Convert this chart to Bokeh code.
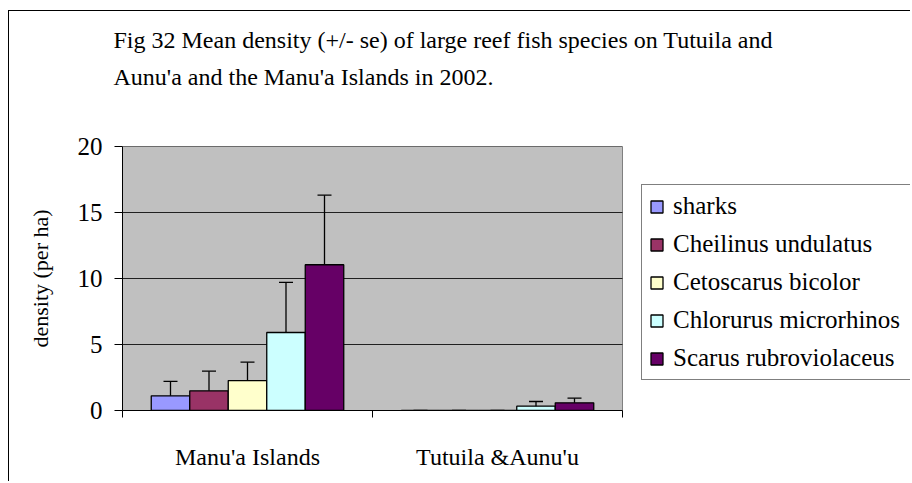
from bokeh.plotting import figure
from bokeh.models import (ColumnDataSource, Range1d, FixedTicker, Legend, LegendItem,
                          Whisker, TeeHead, Title)
from bokeh.layouts import column
from bokeh.embed import file_html
from bokeh.resources import INLINE

# ---- data ----
categories = ["Manu'a Islands", "Tutuila &Aunu'u"]
species = ["sharks", "Cheilinus undulatus", "Cetoscarus bicolor",
           "Chlorurus microrhinos", "Scarus rubroviolaceus"]
sharks = [1.11, 0.0]
cheilinus = [1.49, 0.0]
cetoscarus = [2.27, 0.0]
chlorurus = [5.91, 0.33]
scarus = [11.04, 0.58]
sharks_se = [1.10, 0.0]
cheilinus_se = [1.49, 0.0]
cetoscarus_se = [1.39, 0.0]
chlorurus_se = [3.79, 0.35]
scarus_se = [5.27, 0.35]
y_ticks = [0, 5, 10, 15, 20]
title_text = ("Fig 32 Mean density (+/- se) of large reef fish species on Tutuila and\n"
              "Aunu'a and the Manu'a Islands in 2002.")
y_label = "density (per ha)"

means = [sharks, cheilinus, cetoscarus, chlorurus, scarus]
ses = [sharks_se, cheilinus_se, cetoscarus_se, chlorurus_se, scarus_se]
colors = ["#9999FF", "#993366", "#FFFFCC", "#CCFFFF", "#660066"]

FONT = "Liberation Serif"
group_frac = 0.77
bw = group_frac / len(species)
n_cat = len(categories)

W, H = 901, 470
LEFT, TOP, BOTTOM = 113, 135, 71
PLOT_W = 500                     # pixel width of the grey plot area
frame_w = W - LEFT               # frame extends to the right edge (legend lives there)
x_end = n_cat * frame_w / PLOT_W

p = figure(width=W, height=H, output_backend="svg", toolbar_location=None,
           x_range=Range1d(0, x_end), y_range=Range1d(y_ticks[0], y_ticks[-1]),
           min_border_left=LEFT, min_border_right=0, min_border_top=TOP,
           min_border_bottom=BOTTOM)
p.background_fill_color = "white"
p.border_fill_color = "white"
p.outline_line_color = None

# grey plot area and horizontal gridlines, limited to the category span
p.quad(left=[0], right=[n_cat], bottom=[y_ticks[0]], top=[y_ticks[-1]],
       fill_color="#C0C0C0", line_color="#808080", line_width=1)
p.segment(x0=[0] * len(y_ticks), x1=[n_cat] * len(y_ticks), y0=y_ticks, y1=y_ticks,
          line_color="#202020", line_width=1)

items = []
for j, (name, m, s, c) in enumerate(zip(species, means, ses, colors)):
    xs = [i + 0.5 + (j - (len(species) - 1) / 2) * bw for i in range(n_cat)]
    src = ColumnDataSource(dict(x=xs, top=m, upper=[a + b for a, b in zip(m, s)]))
    r = p.vbar(x="x", top="top", width=bw, source=src, fill_color=c,
               line_color="black", line_width=1.3)
    wk = Whisker(base="x", lower="top", upper="upper", source=src, level="annotation",
                 line_color="black", line_width=1.3,
                 upper_head=TeeHead(size=14, line_color="black", line_width=1.3),
                 lower_head=None)
    p.add_layout(wk)
    items.append(LegendItem(label=name, renderers=[r]))

# axes
p.xgrid.visible = False
p.ygrid.visible = False
p.yaxis.ticker = FixedTicker(ticks=y_ticks)
p.yaxis.major_tick_out = 8
p.yaxis.major_tick_in = 0
p.yaxis.minor_tick_line_color = None
p.yaxis.major_label_standoff = 12
p.yaxis.major_label_text_font = FONT
p.yaxis.major_label_text_font_size = "25px"
p.yaxis.major_label_text_color = "black"
p.yaxis.axis_label = y_label
p.yaxis.axis_label_text_font = FONT
p.yaxis.axis_label_text_font_size = "22px"
p.yaxis.axis_label_text_font_style = "normal"
p.yaxis.axis_label_text_color = "black"
p.yaxis.axis_label_standoff = 22
p.yaxis.axis_line_color = "black"

centers = [i + 0.5 for i in range(n_cat)]
bounds = list(range(n_cat + 1))
p.xaxis.bounds = (0, n_cat)
p.xaxis.ticker = FixedTicker(ticks=centers, minor_ticks=bounds)
p.xaxis.major_label_overrides = {c: lab for c, lab in zip(centers, categories)}
p.xaxis.major_tick_line_color = None
p.xaxis.major_tick_out = 0
p.xaxis.major_tick_in = 0
p.xaxis.minor_tick_out = 7
p.xaxis.minor_tick_in = 0
p.xaxis.minor_tick_line_color = "black"
p.xaxis.major_label_standoff = 26
p.xaxis.major_label_text_font = FONT
p.xaxis.major_label_text_font_size = "24px"
p.xaxis.major_label_text_color = "black"
p.xaxis.axis_line_color = "black"

# spacer panel next to the plot, then the two-line title (p.title sits outermost)
p.add_layout(Title(text=" ", standoff=53, text_font_size="1px"), "above")
p.title = Title(text=title_text, align="left", offset=-9, standoff=0,
                text_font=FONT, text_font_size="24px", text_font_style="normal",
                text_color="black", text_line_height=1.46)

legend = Legend(items=items, location=(519, 30), label_text_font=FONT,
                label_text_font_size="25px", label_text_color="black", label_height=25,
                label_width=240, glyph_height=15, glyph_width=15, label_standoff=9,
                spacing=10, padding=7, margin=0, border_line_color="black",
                border_line_width=1, background_fill_color="white",
                background_fill_alpha=1)
p.add_layout(legend)

layout = column(p, styles={"border-left": "1px solid black", "border-top": "1px solid black",
                           "margin-left": "8px", "margin-top": "10px"})

open("out.html", "w").write(file_html(layout, INLINE))
